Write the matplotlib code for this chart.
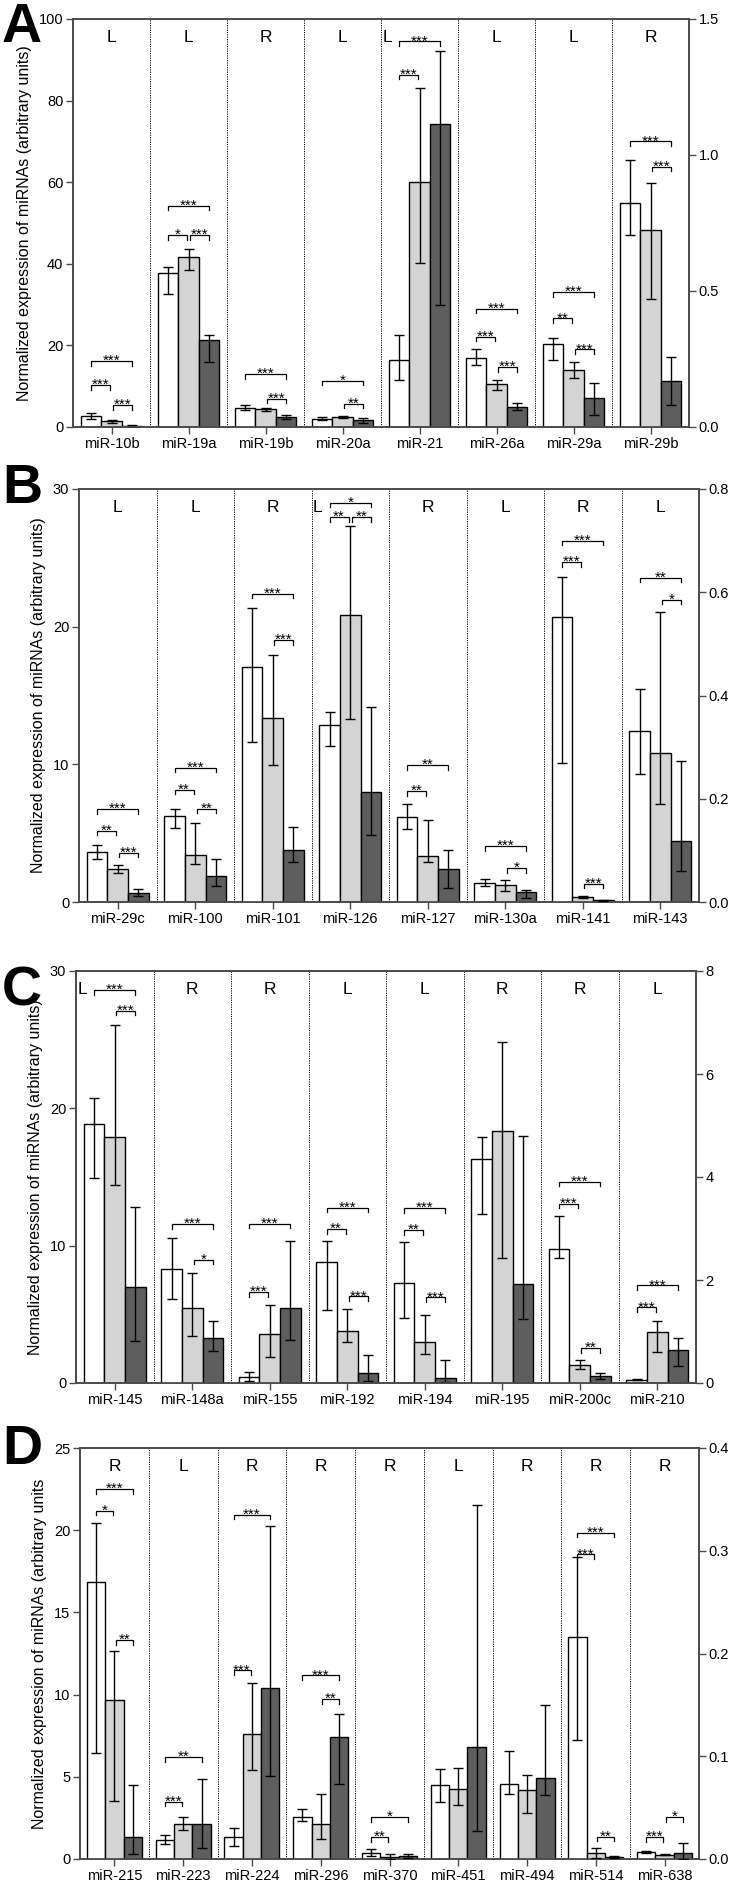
import matplotlib
matplotlib.use("Agg")
import matplotlib.pyplot as plt
import numpy as np

plt.rcParams['font.family'] = ['Liberation Sans', 'DejaVu Sans']

# ---------------- data (mean, upper end, lower end of error bar) ----------------
# Panel A
a_names = ["miR-10b", "miR-19a", "miR-19b", "miR-20a", "miR-21", "miR-26a", "miR-29a", "miR-29b"]
a_side = ["L", "L", "R", "L", "L", "L", "L", "R"]
a_white = [2.7, 37.8, 0.071, 2.0, 16.4, 17.0, 20.3, 0.822]
a_white_hi = [3.4, 39.2, 0.080, 2.5, 22.5, 19.1, 21.7, 0.98]
a_white_lo = [1.9, 32.7, 0.061, 1.6, 11.4, 15.3, 16.4, 0.705]
a_gray = [1.4, 41.7, 0.065, 2.5, 60.1, 10.5, 13.9, 0.724]
a_gray_hi = [1.8, 43.7, 0.070, 2.7, 83.0, 11.4, 15.9, 0.898]
a_gray_lo = [1.0, 38.6, 0.059, 2.2, 40.1, 9.0, 11.9, 0.469]
a_dark = [0.35, 21.4, 0.037, 1.8, 74.2, 4.9, 7.0, 0.168]
a_dark_hi = [0.6, 22.5, 0.043, 2.2, 92.2, 5.9, 10.8, 0.259]
a_dark_lo = [0.1, 15.9, 0.031, 1.1, 29.8, 4.1, 3.0, 0.080]
a_sig = [(0, "wg", 10.2, "***"), (0, "wd", 16.1, "***"), (0, "gd", 5.3, "***"),
         (1, "wg", 47.0, "*"), (1, "gd", 47.0, "***"), (1, "wd", 54.2, "***"),
         (2, "wd", 0.194, "***"), (2, "gd", 0.104, "***"),
         (3, "wd", 11.3, "*"), (3, "gd", 5.7, "**"),
         (4, "wg", 86.3, "***"), (4, "wd", 94.5, "***"),
         (5, "wg", 22.1, "***"), (5, "gd", 14.7, "***"), (5, "wd", 29.0, "***"),
         (6, "wg", 26.6, "**"), (6, "gd", 19.0, "***"), (6, "wd", 33.0, "***"),
         (7, "wd", 1.050, "***"), (7, "gd", 0.957, "***")]

# Panel B
b_names = ["miR-29c", "miR-100", "miR-101", "miR-126", "miR-127", "miR-130a", "miR-141", "miR-143"]
b_side = ["L", "L", "R", "L", "R", "L", "R", "L"]
b_white = [3.64, 6.23, 0.456, 12.83, 0.165, 1.38, 0.553, 12.42]
b_white_hi = [4.12, 6.72, 0.569, 13.82, 0.189, 1.65, 0.630, 15.45]
b_white_lo = [3.15, 5.38, 0.309, 11.35, 0.142, 1.14, 0.270, 9.31]
b_gray = [2.43, 3.44, 0.356, 20.83, 0.090, 1.24, 0.0097, 10.84]
b_gray_hi = [2.69, 5.75, 0.479, 27.33, 0.158, 1.63, 0.011, 21.03]
b_gray_lo = [2.11, 2.79, 0.266, 13.27, 0.078, 0.78, 0.008, 7.15]
b_dark = [0.65, 1.87, 0.101, 8.0, 0.063, 0.73, 0.003, 4.46]
b_dark_hi = [0.92, 3.15, 0.146, 14.14, 0.100, 0.85, 0.004, 10.21]
b_dark_lo = [0.41, 1.14, 0.078, 4.9, 0.028, 0.29, 0.002, 2.26]
b_sig = [(0, "wg", 5.19, "**"), (0, "gd", 3.57, "***"), (0, "wd", 6.74, "***"),
         (1, "wg", 8.17, "**"), (1, "gd", 6.77, "**"), (1, "wd", 9.75, "***"),
         (2, "wd", 0.597, "***"), (2, "gd", 0.507, "***"),
         (3, "wg", 27.94, "**"), (3, "gd", 27.94, "**"), (3, "wd", 29.0, "*"),
         (4, "wg", 0.215, "**"), (4, "wd", 0.265, "**"),
         (5, "gd", 2.47, "*"), (5, "wd", 4.07, "***"),
         (6, "wg", 0.658, "***"), (6, "wd", 0.700, "***"), (6, "gd", 0.035, "***"),
         (7, "wd", 23.55, "**"), (7, "gd", 21.95, "*")]

# Panel C
c_names = ["miR-145", "miR-148a", "miR-155", "miR-192", "miR-194", "miR-195", "miR-200c", "miR-210"]
c_side = ["L", "R", "R", "L", "L", "R", "R", "L"]
c_white = [18.85, 2.216, 0.116, 8.80, 7.29, 4.355, 2.604, 0.24]
c_white_hi = [20.72, 2.824, 0.213, 10.37, 10.25, 4.78, 3.244, 0.29]
c_white_lo = [14.90, 1.635, 0.045, 5.33, 4.72, 3.28, 2.423, 0.19]
c_gray = [17.93, 1.454, 0.950, 3.76, 2.98, 4.898, 0.349, 3.68]
c_gray_hi = [26.10, 2.132, 1.506, 5.38, 4.92, 6.63, 0.44, 4.48]
c_gray_lo = [14.42, 0.918, 0.498, 2.98, 2.13, 2.42, 0.27, 2.25]
c_dark = [6.98, 0.872, 1.448, 0.70, 0.39, 1.919, 0.129, 2.42]
c_dark_hi = [12.84, 1.208, 2.766, 2.01, 1.65, 4.795, 0.194, 3.27]
c_dark_lo = [3.03, 0.614, 0.840, 0.12, 0.07, 1.247, 0.078, 1.26]
c_sig = [(0, "wd", 28.6, "***"), (0, "gd", 27.1, "***"),
         (1, "wd", 3.08, "***"), (1, "gd", 2.39, "*"),
         (2, "wg", 1.764, "***"), (2, "wd", 3.089, "***"),
         (3, "wg", 11.19, "**"), (3, "gd", 6.30, "***"), (3, "wd", 12.77, "***"),
         (4, "wg", 11.12, "**"), (4, "gd", 6.23, "***"), (4, "wd", 12.72, "***"),
         (6, "wg", 3.477, "***"), (6, "wd", 3.91, "***"), (6, "gd", 0.679, "**"),
         (7, "wg", 5.50, "***"), (7, "wd", 7.10, "***")]

# Panel D
d_names = ["miR-215", "miR-223", "miR-224", "miR-296", "miR-370", "miR-451", "miR-494", "miR-514", "miR-638"]
d_side = ["R", "L", "R", "R", "R", "L", "R", "R", "R"]
d_white = [0.270, 1.15, 0.0214, 0.0411, 0.0058, 4.51, 0.0728, 0.2162, 0.0071]
d_white_hi = [0.327, 1.46, 0.030, 0.049, 0.0097, 5.50, 0.1049, 0.2935, 0.0081]
d_white_lo = [0.103, 0.89, 0.013, 0.037, 0.0029, 3.48, 0.0634, 0.1162, 0.0061]
d_gray = [0.155, 2.12, 0.1217, 0.0337, 0.0019, 4.27, 0.0670, 0.0058, 0.0042]
d_gray_hi = [0.202, 2.57, 0.171, 0.0628, 0.0045, 5.52, 0.0822, 0.011, 0.0048]
d_gray_lo = [0.056, 1.78, 0.087, 0.0191, 0.0003, 3.26, 0.0443, 0.0005, 0.0036]
d_dark = [0.0217, 2.10, 0.1663, 0.119, 0.0029, 6.82, 0.0786, 0.0016, 0.0061]
d_dark_hi = [0.072, 4.89, 0.324, 0.1414, 0.0045, 21.54, 0.150, 0.0025, 0.0159]
d_dark_lo = [0.0045, 0.65, 0.081, 0.0731, 0.0013, 1.70, 0.0621, 0.0008, 0.0003]
d_sig = [(0, "wg", 0.339, "*"), (0, "wd", 0.360, "***"), (0, "gd", 0.213, "**"),
         (1, "wg", 3.48, "***"), (1, "wd", 6.19, "**"),
         (2, "wg", 0.1835, "***"), (2, "wd", 0.335, "***"),
         (3, "wd", 0.1786, "***"), (3, "gd", 0.1557, "**"),
         (4, "wg", 0.0214, "**"), (4, "wd", 0.0408, "*"),
         (7, "wg", 0.2964, "***"), (7, "wd", 0.3175, "***"), (7, "gd", 0.0217, "**"),
         (8, "wg", 0.0214, "***"), (8, "gd", 0.0408, "*")]

bar_colors = ["white", "#d4d4d4", "#5e5e5e"]
spine_col = "#4a4a4a"
bw = 0.8 / 3

fig = plt.figure(figsize=(7.38, 18.87), dpi=100)
W, H = 738, 1887


def panel(rect, letter, letter_xy, names, side, series, sig, lmax, lticks, rmax, rticks, rfmt,
          shifted=(), ylabel="Normalized expression of miRNAs (arbitrary units)"):
    l, t, r, b = rect
    ax = fig.add_axes([l / W, 1 - b / H, (r - l) / W, (b - t) / H])
    ax2 = ax.twinx()
    n = len(names)
    x = np.arange(n)
    for k, (m, hi, lo) in enumerate(series):
        m = np.array(m); hi = np.array(hi); lo = np.array(lo)
        for i in range(n):
            a = ax if side[i] == "L" else ax2
            a.bar(x[i] + (k - 1) * bw, m[i], bw, color=bar_colors[k], edgecolor="black",
                  linewidth=1.0, zorder=2)
            a.errorbar(x[i] + (k - 1) * bw, m[i], yerr=[[m[i] - lo[i]], [hi[i] - m[i]]],
                       fmt="none", ecolor="black", elinewidth=1.0, capsize=3.5,
                       capthick=1.0, zorder=3)
    for i in range(1, n):
        ax.axvline(i - 0.5, color="black", linestyle=(0, (1.2, 1.2)), linewidth=0.7, zorder=1)
    for i in range(n):
        xt = i - 0.42 if i in shifted else i
        ax.text(xt, 0.955, side[i], transform=ax.get_xaxis_transform(), ha="center",
                va="center", fontsize=12.5)
    offs = {"wg": (-bw, -0.02), "gd": (0.02, bw), "wd": (-bw, bw)}
    for i, pair, y, lab in sig:
        a = ax if side[i] == "L" else ax2
        top = lmax if side[i] == "L" else rmax
        dx0, dx1 = offs[pair]
        x0, x1 = i + dx0, i + dx1
        hgt = top * 0.011
        a.plot([x0, x0, x1, x1], [y - hgt, y, y, y - hgt], color="black", linewidth=0.9,
               zorder=4, solid_joinstyle="miter")
        a.annotate(lab, ((x0 + x1) / 2, y), xytext=(0, -2.8), textcoords="offset points",
                   ha="center", va="baseline", fontsize=11)
    ax.set_xlim(-0.5, n - 0.5)
    ax.set_ylim(0, lmax)
    ax2.set_ylim(0, rmax)
    ax.set_yticks(lticks)
    ax2.set_yticks(rticks)
    ax2.set_yticklabels([rfmt.format(v) for v in rticks])
    ax.set_xticks(x)
    ax.set_xticklabels(names)
    for a in (ax, ax2):
        for s in a.spines.values():
            s.set_color(spine_col)
            s.set_linewidth(1.2)
        a.tick_params(colors=spine_col, labelcolor="black", labelsize=10.5, length=5,
                      width=1.0, pad=2)
    ax.set_ylabel(ylabel, fontsize=11.5, labelpad=5)
    fig.text(letter_xy[0] / W, 1 - letter_xy[1] / H, letter, fontsize=40,
             fontweight="bold", ha="left", va="top")
    return ax


panel((73, 19, 689, 427), "A", (2, 2), a_names, a_side,
      [(a_white, a_white_hi, a_white_lo), (a_gray, a_gray_hi, a_gray_lo), (a_dark, a_dark_hi, a_dark_lo)],
      a_sig, 100, [0, 20, 40, 60, 80, 100], 1.5, [0, 0.5, 1.0, 1.5], "{:.1f}", shifted=(4,))
panel((79, 489, 699, 902), "B", (2, 463), b_names, b_side,
      [(b_white, b_white_hi, b_white_lo), (b_gray, b_gray_hi, b_gray_lo), (b_dark, b_dark_hi, b_dark_lo)],
      b_sig, 30, [0, 10, 20, 30], 0.8, [0, 0.2, 0.4, 0.6, 0.8], "{:.1f}", shifted=(3,))
panel((76, 971, 696, 1383), "C", (2, 966), c_names, c_side,
      [(c_white, c_white_hi, c_white_lo), (c_gray, c_gray_hi, c_gray_lo), (c_dark, c_dark_hi, c_dark_lo)],
      c_sig, 30, [0, 10, 20, 30], 8, [0, 2, 4, 6, 8], "{:.0f}", shifted=(0,))
panel((80, 1448, 699, 1859), "D", (2, 1424), d_names, d_side,
      [(d_white, d_white_hi, d_white_lo), (d_gray, d_gray_hi, d_gray_lo), (d_dark, d_dark_hi, d_dark_lo)],
      d_sig, 25, [0, 5, 10, 15, 20, 25], 0.4, [0, 0.1, 0.2, 0.3, 0.4], "{:.1f}",
      ylabel="Normalized expression of miRNAs (arbitrary units")

fig.savefig("out.png", dpi=100)
